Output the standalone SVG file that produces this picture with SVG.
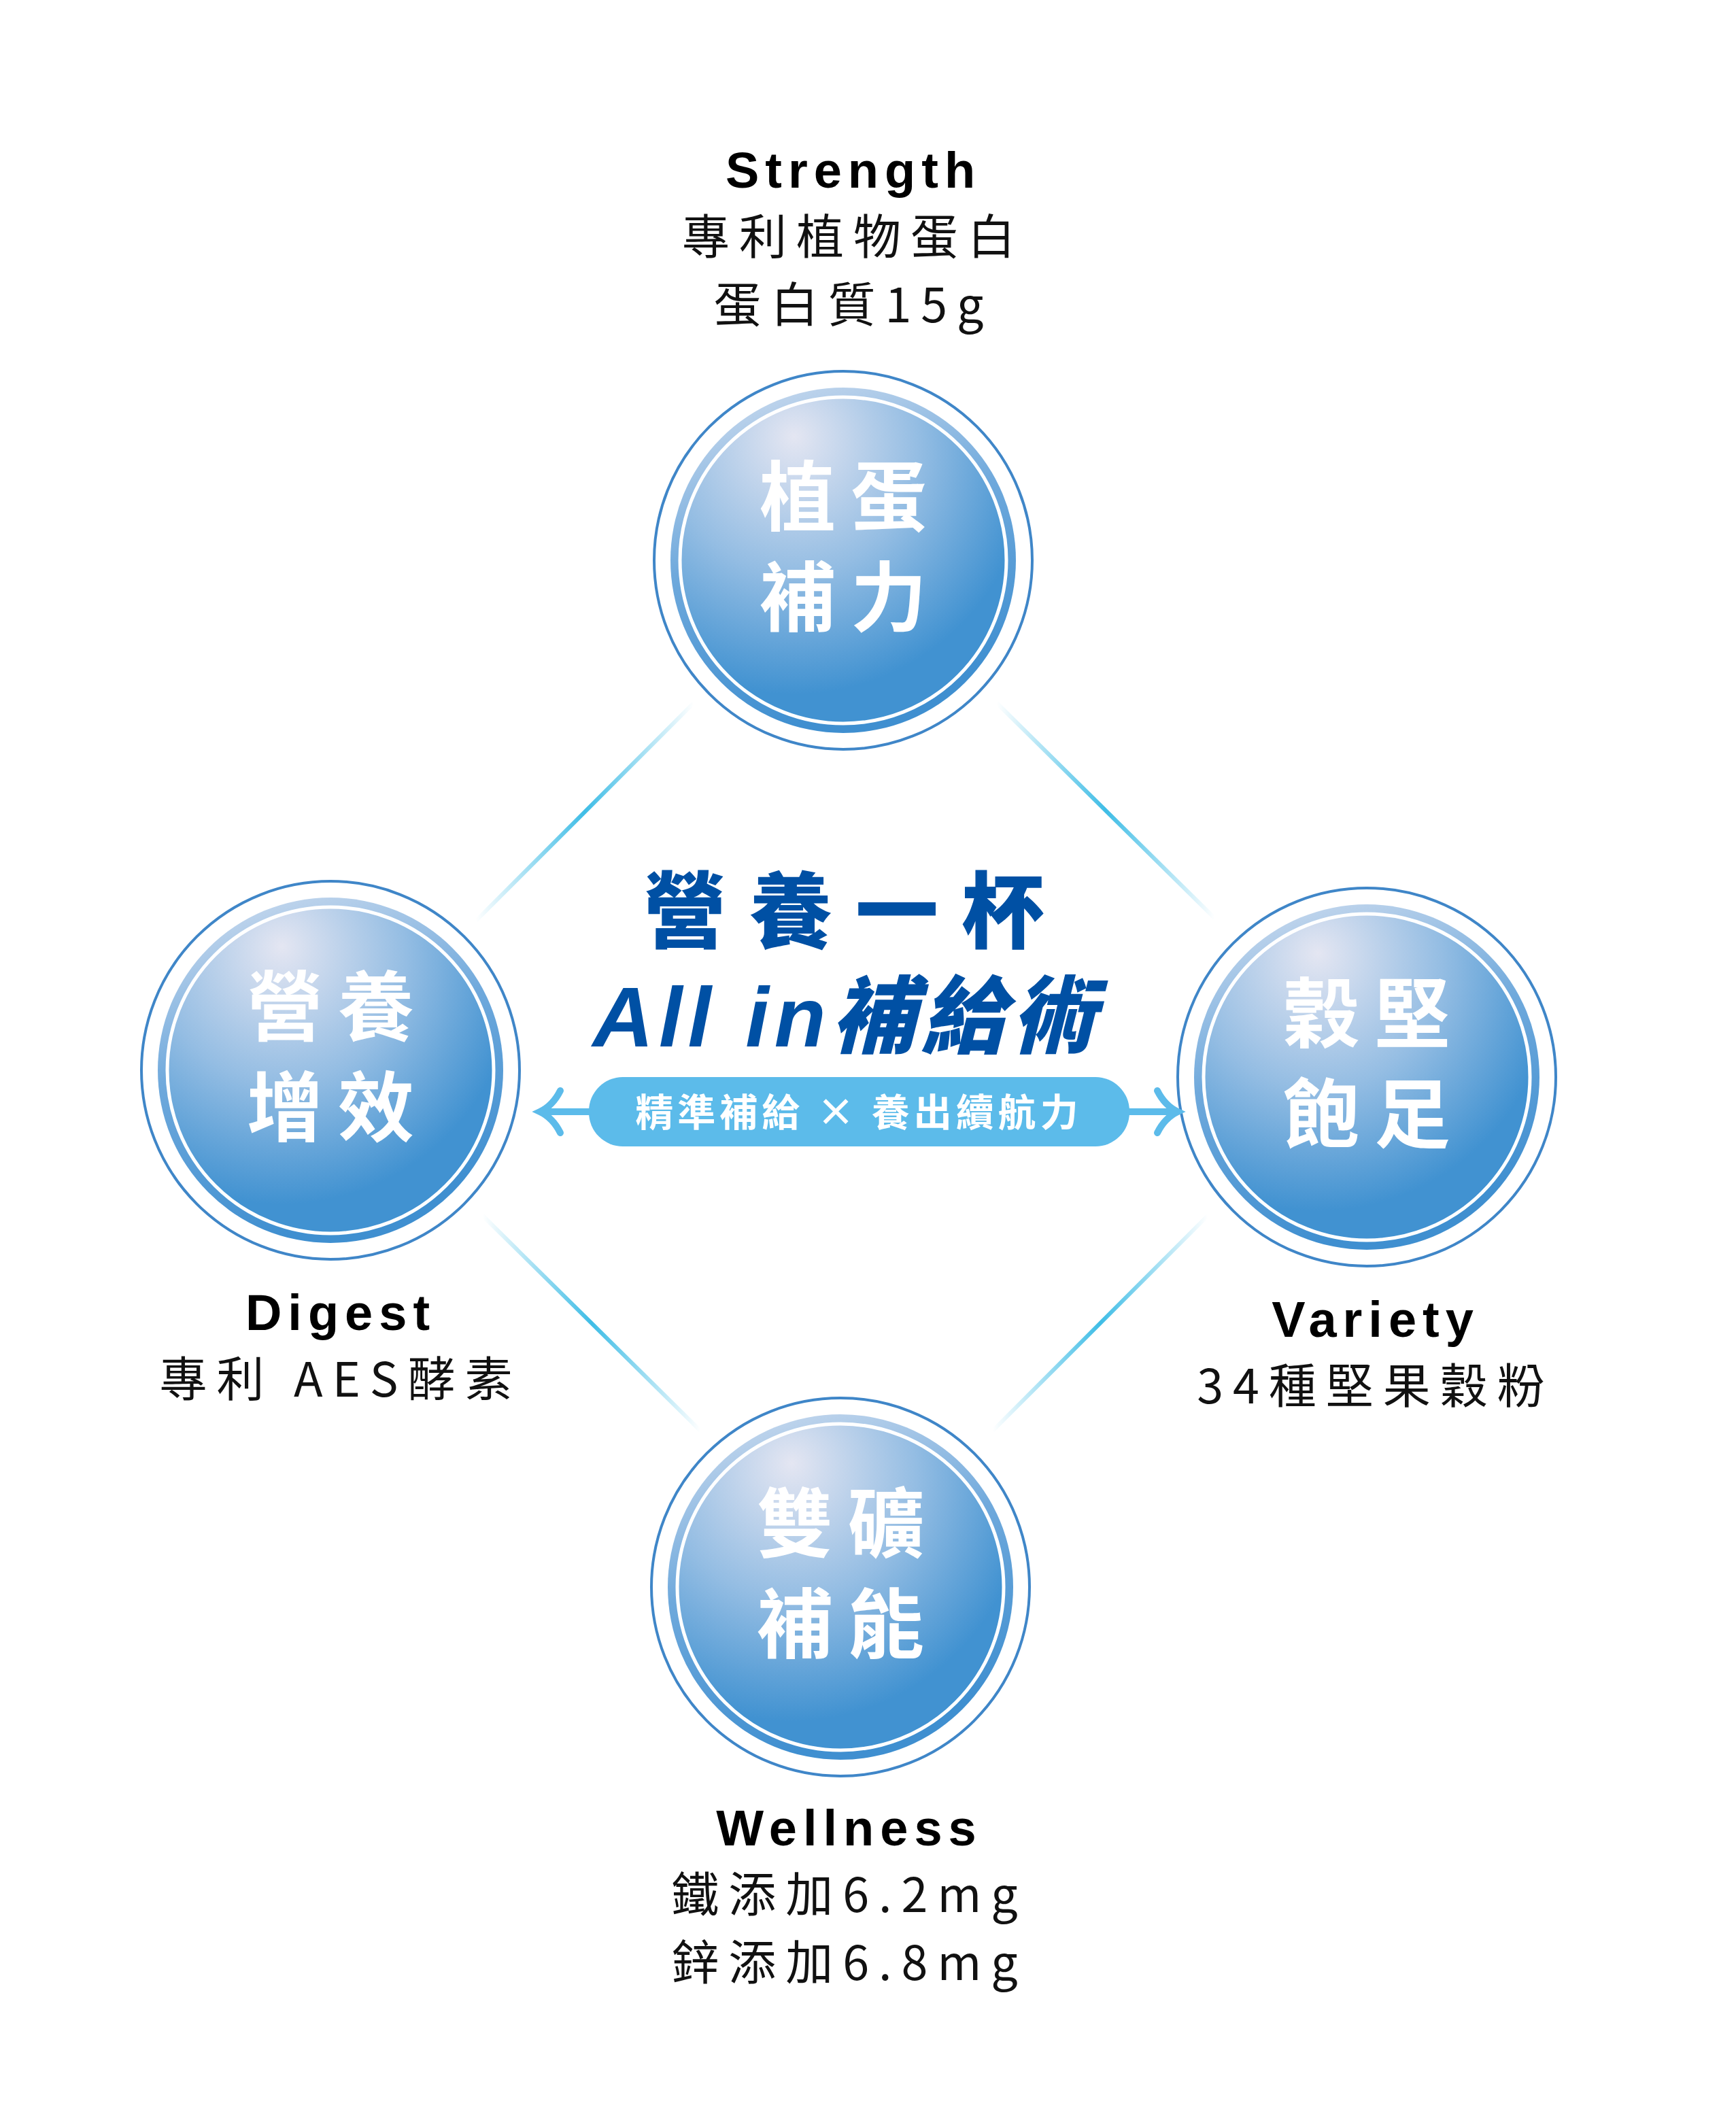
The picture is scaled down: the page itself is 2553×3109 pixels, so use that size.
<svg xmlns="http://www.w3.org/2000/svg" width="2553" height="3109" viewBox="0 0 2553 3109">
<defs>
<radialGradient id="rg" cx="0.35" cy="0.2" r="0.85" fx="0.35" fy="0.12">
<stop offset="0" stop-color="#e4e6f2"/><stop offset="0.45" stop-color="#94bde3"/><stop offset="0.85" stop-color="#4192d1"/><stop offset="1" stop-color="#4192d1"/>
</radialGradient>
<linearGradient id="band" x1="0" y1="0" x2="0.3" y2="1">
<stop offset="0" stop-color="#d3dff0"/><stop offset="0.5" stop-color="#6fa9dc"/><stop offset="1" stop-color="#3f8fd0"/>
</linearGradient>
<linearGradient id="ln" x1="0" y1="0" x2="1" y2="0">
<stop offset="0" stop-color="#3fbde6" stop-opacity="0"/><stop offset="0.5" stop-color="#3fbde6"/><stop offset="1" stop-color="#3fbde6" stop-opacity="0"/>
</linearGradient>
<g id="circ">
<circle r="278" fill="#fff" stroke="#3f86c8" stroke-width="4"/>
<circle r="254" fill="url(#band)"/>
<circle r="240" fill="url(#rg)" stroke="#fff" stroke-width="5"/>
</g>
</defs>
<style>
.ct{font-family:"Noto Sans CJK TC","Noto Sans CJK SC",sans-serif;font-weight:700;font-size:112px;fill:#fff;letter-spacing:22px;text-anchor:middle}
.en{font-family:"Liberation Sans",Arial,sans-serif;font-weight:900;font-size:74px;fill:#000;letter-spacing:9px;text-anchor:middle}
.zh{font-family:"Noto Sans CJK TC","Noto Sans CJK SC",sans-serif;font-size:70px;fill:#111;letter-spacing:14px;text-anchor:middle}
</style>
<rect width="2553" height="3109" fill="#fff"/>
<g transform="translate(-10,-6)">
<g id="connectors">
<line x1="1030" y1="1040" x2="710" y2="1360" stroke="url(#ln)" stroke-width="6"/>
<line x1="1476" y1="1040" x2="1796" y2="1356" stroke="url(#ln)" stroke-width="6"/>
<line x1="720" y1="1794" x2="1040" y2="2110" stroke="url(#ln)" stroke-width="6"/>
<line x1="1786" y1="1794" x2="1470" y2="2110" stroke="url(#ln)" stroke-width="6"/>
</g>
<g id="top"><use href="#circ" x="1250" y="830"/>
<text class="ct" x="1261" y="778">植蛋</text><text class="ct" x="1261" y="926">補力</text></g>
<g id="left"><use href="#circ" x="496" y="1580"/>
<text class="ct" x="507" y="1528">營養</text><text class="ct" x="507" y="1676">增效</text></g>
<g id="right"><use href="#circ" x="2020" y="1590"/>
<text class="ct" x="2031" y="1538">穀堅</text><text class="ct" x="2031" y="1686">飽足</text></g>
<g id="bottom"><use href="#circ" x="1246" y="2340"/>
<text class="ct" x="1257" y="2288">雙礦</text><text class="ct" x="1257" y="2436">補能</text></g>
<g id="center">
<text x="1268" y="1390" font-family="Noto Sans CJK TC,sans-serif" font-weight="900" font-size="122" fill="#0050a4" letter-spacing="34" text-anchor="middle">營養一杯</text>
<text x="1255" y="1545" font-family="Liberation Sans,Noto Sans CJK TC,sans-serif" font-weight="900" font-style="italic" font-size="124" fill="#0050a4" letter-spacing="8" text-anchor="middle">All in補給術</text>
<rect x="876" y="1590" width="795" height="102" rx="50" fill="#5cbbea"/>
<text x="1273" y="1662" font-family="Noto Sans CJK TC,sans-serif" font-weight="700" font-size="56" fill="#fff" letter-spacing="6" text-anchor="middle">精準補給 × 養出續航力</text>
<path d="M876 1641 H808 M834 1610 Q823 1632 804 1641 Q823 1650 834 1672" fill="none" stroke="#5cbbea" stroke-width="10" stroke-linecap="round"/>
<path d="M1671 1641 H1738 M1712 1610 Q1723 1632 1742 1641 Q1723 1650 1712 1672" fill="none" stroke="#5cbbea" stroke-width="10" stroke-linecap="round"/>
</g>
<g id="labels">
<text class="en" x="1265" y="282">Strength</text>
<text class="zh" x="1265" y="380">專利植物蛋白</text>
<text class="zh" x="1265" y="480">蛋白質15g</text>
<text class="en" x="511" y="1962">Digest</text>
<text class="zh" x="511" y="2060">專利 AES酵素</text>
<text class="en" x="2033" y="1972">Variety</text>
<text class="zh" x="2033" y="2070">34種堅果穀粉</text>
<text class="en" x="1259" y="2720">Wellness</text>
<text class="zh" x="1259" y="2818">鐵添加6.2mg</text>
<text class="zh" x="1259" y="2918">鋅添加6.8mg</text>
</g>
</g>
</svg>
